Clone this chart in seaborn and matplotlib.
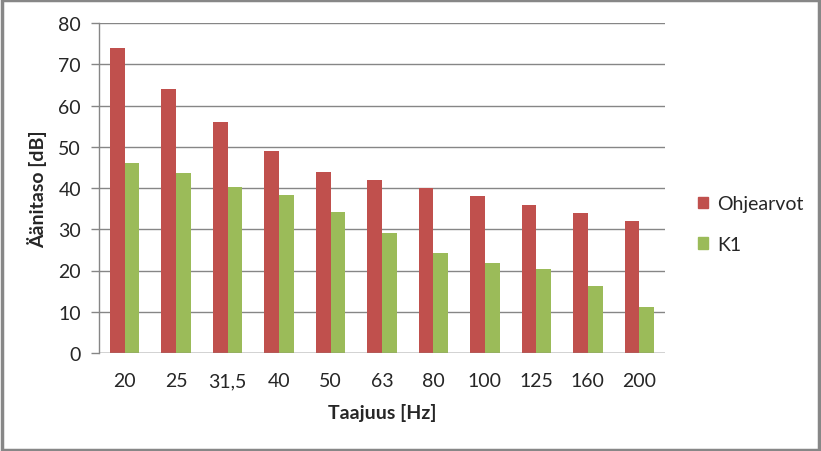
import pandas as pd
import numpy as np
import matplotlib
matplotlib.use('Agg')
import matplotlib.pyplot as plt
import seaborn as sns
from matplotlib.patches import Rectangle

# data
freqs = ['20', '25', '31,5', '40', '50', '63', '80', '100', '125', '160', '200']
ohjearvot = [74, 64, 56, 49, 44, 42, 40, 38, 36, 34, 32]
k1 = [46.1, 43.6, 40.2, 38.3, 34.2, 29.1, 24.2, 21.8, 20.4, 16.2, 11.2]
series_names = ['Ohjearvot', 'K1']
colors = ['#C0504D', '#9BBB59']

df = pd.DataFrame({
    'freq': freqs * 2,
    'value': ohjearvot + k1,
    'series': [series_names[0]] * len(freqs) + [series_names[1]] * len(freqs),
})

sns.set_style('white')
plt.rcParams['font.family'] = ['Lato', 'DejaVu Sans']
grid_col = '#868686'
fs = 14

fig = plt.figure(figsize=(8.21, 4.52), dpi=100)
ax = fig.add_axes([99 / 821, 1 - 354 / 452, (665 - 99) / 821, (354 - 24) / 452])

sns.barplot(data=df, x='freq', y='value', hue='series', order=freqs,
            hue_order=series_names, palette=colors, saturation=1,
            width=0.574, gap=0, linewidth=0, ax=ax, zorder=3)

ax.set_ylim(0, 80)
ax.set_xlim(-0.5, len(freqs) - 0.5)
ax.set_yticks(np.arange(0, 81, 10))
ax.yaxis.grid(True, color=grid_col, linewidth=1)
ax.set_axisbelow(True)
for s in ['top', 'right', 'bottom']:
    ax.spines[s].set_visible(False)
ax.spines['left'].set_color(grid_col)
ax.spines['left'].set_linewidth(1)
ax.axhline(0, color=grid_col, linewidth=1, zorder=4)

# category boundary ticks on x axis
ax.set_xticks(np.arange(-0.5, len(freqs), 1), minor=True)
ax.tick_params(axis='x', which='major', length=0, pad=14, labelsize=fs)
ax.tick_params(axis='x', which='minor', length=6, color=grid_col, width=1, direction='out')
ax.tick_params(axis='y', length=6, color=grid_col, width=1, direction='out', pad=7, labelsize=fs, left=True)

ax.set_xlabel('Taajuus [Hz]', fontsize=fs, fontweight='bold', labelpad=10)
ax.set_ylabel('Äänitaso [dB]', fontsize=fs, fontweight='bold', labelpad=8)

ax.legend_.remove()
handles = [Rectangle((0, 0), 1, 1, color=c) for c in colors]
fig.legend(handles, series_names, loc='center left',
           bbox_to_anchor=(680 / 821, 1 - 225 / 452), frameon=False,
           fontsize=fs, handlelength=0.55, handleheight=0.55,
           handletextpad=0.45, labelspacing=1.2)

# chart area border
fig.patches.append(Rectangle((0.002, 0.003), 0.995, 0.994, transform=fig.transFigure,
                             fill=False, edgecolor='#878787', linewidth=2.5))

fig.savefig('out.png', dpi=100)
